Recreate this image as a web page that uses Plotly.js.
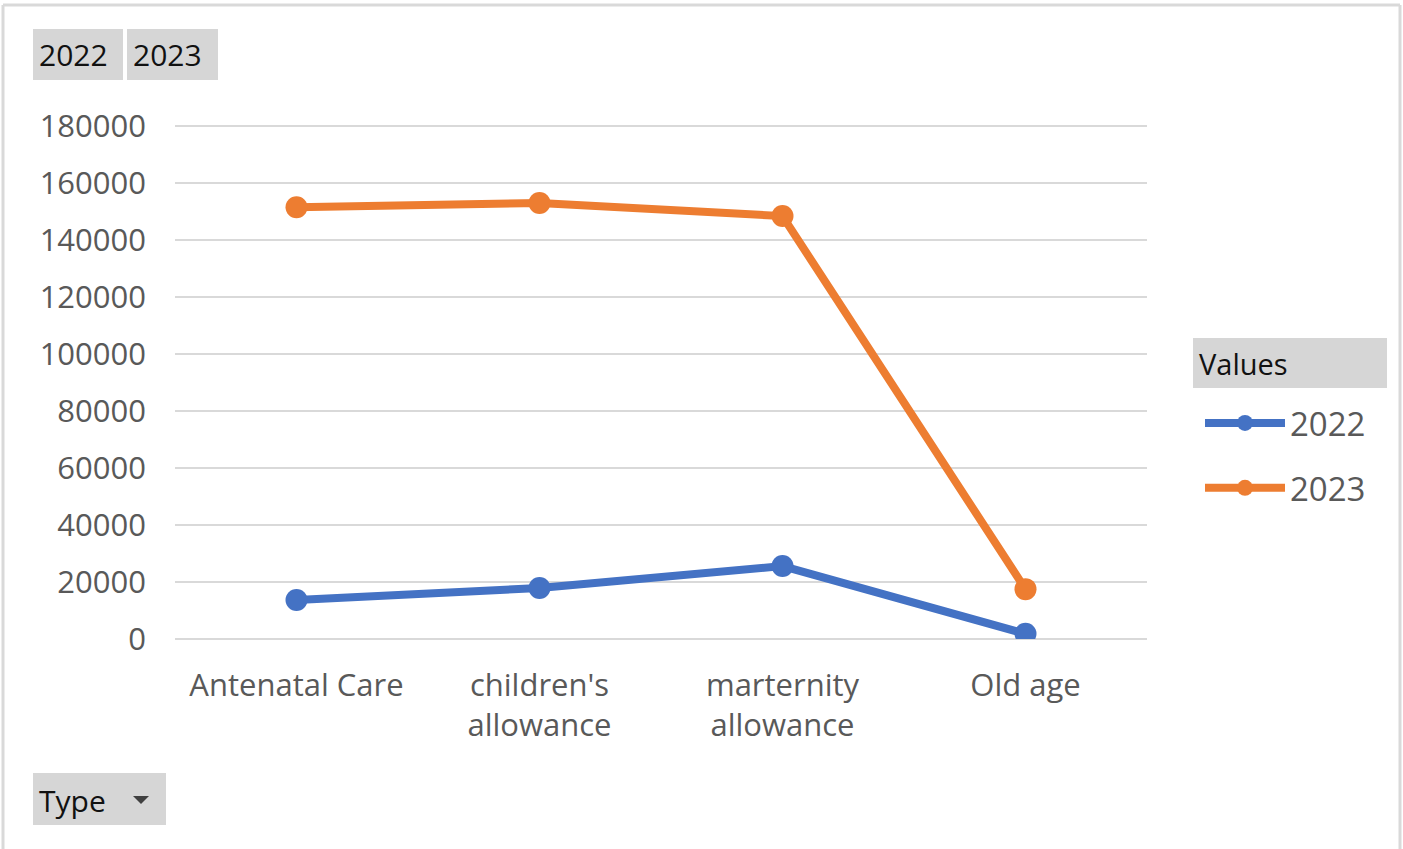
<!DOCTYPE html>
<html>
<head>
<meta charset="utf-8">
<script src="https://cdn.plot.ly/plotly-3.0.1.min.js"></script>
<style>
html,body{margin:0;padding:0;background:#fff;}
#chart{width:1403px;height:849px;}
</style>
</head>
<body>
<div id="chart"></div>
<script>
const categories = ["Antenatal Care", "children's allowance", "marternity allowance", "Old age"];
const tickLabels = ["Antenatal Care", "children's<br>allowance", "marternity<br>allowance", "Old age"];
const seriesNames = ["2022", "2023"];
const values2022 = [13700, 17900, 25600, 1800];
const values2023 = [151500, 153000, 148400, 17500];
const yTicks = [0, 20000, 40000, 60000, 80000, 100000, 120000, 140000, 160000, 180000];

const W = 1403, H = 849;
const M = {l: 175, r: 256, t: 124, b: 210};
const PW = W - M.l - M.r, PH = H - M.t - M.b;
const Y0 = 639, YTOP = 126; // pixel rows of 0 and 180000
const yMax = 180000 * (H - M.b - M.t) / (Y0 - YTOP);
const px = x => (x - M.l) / PW;
const py = y => (H - M.b - y) / PH;

const FONT = "Open Sans, Noto Sans, sans-serif";
const colors = ["#4472c4", "#ed7d31"];

const traces = [values2022, values2023].map((v, i) => ({
  type: "scatter",
  mode: "lines+markers",
  name: seriesNames[i],
  x: categories,
  y: v,
  line: {color: colors[i], width: 8},
  marker: {color: colors[i], size: 22},
  legendgroup: "g" + i
}));

const btnFill = "#d6d6d6";
const shapes = [
  {type: "line", xref: "paper", yref: "paper", x0: px(3), x1: px(1400), y0: py(5), y1: py(5), line: {color: "#d9d9d9", width: 3}},
  {type: "line", xref: "paper", yref: "paper", x0: px(3), x1: px(3), y0: py(5), y1: py(849), line: {color: "#d9d9d9", width: 3}},
  {type: "line", xref: "paper", yref: "paper", x0: px(1400), x1: px(1400), y0: py(5), y1: py(849), line: {color: "#d9d9d9", width: 3}},
  {type: "rect", xref: "paper", yref: "paper", x0: px(33), x1: px(123), y0: py(29), y1: py(80), fillcolor: btnFill, line: {width: 0}},
  {type: "rect", xref: "paper", yref: "paper", x0: px(127), x1: px(218), y0: py(29), y1: py(80), fillcolor: btnFill, line: {width: 0}},
  {type: "rect", xref: "paper", yref: "paper", x0: px(33), x1: px(166), y0: py(773), y1: py(825), fillcolor: btnFill, line: {width: 0}},
  {type: "rect", xref: "paper", yref: "paper", x0: px(1193), x1: px(1387), y0: py(338), y1: py(388), fillcolor: btnFill, line: {width: 0}},
  {type: "path", xref: "paper", yref: "paper",
   path: `M ${px(133)} ${py(796)} L ${px(149)} ${py(796)} L ${px(141)} ${py(804)} Z`,
   fillcolor: "#404040", line: {width: 0}}
];

const ann = (text, x, y, size, color) => ({
  text: text, xref: "paper", yref: "paper", x: px(x), y: py(y),
  xanchor: "left", yanchor: "middle", showarrow: false,
  font: {family: FONT, size: size, color: color}
});

const annotations = [
  ann("2022", 37, 55, 30, "#111111"),
  ann("2023", 131, 55, 30, "#111111"),
  ann("Type", 37, 800, 30, "#111111"),
  ann("Values", 1197, 363, 29, "#111111")
];

const layout = {
  width: W, height: H,
  margin: M,
  paper_bgcolor: "#ffffff",
  plot_bgcolor: "#ffffff",
  font: {family: FONT, color: "#595959", size: 30},
  showlegend: true,
  legend: {
    x: px(1200), y: py(395), xanchor: "left", yanchor: "top",
    font: {family: FONT, size: 33, color: "#595959"},
    tracegroupgap: 19, traceorder: "grouped", itemwidth: 80
  },
  xaxis: {
    type: "category",
    categoryorder: "array", categoryarray: categories,
    tickvals: categories, ticktext: tickLabels,
    range: [-0.5, 3.5],
    showgrid: false, zeroline: false, showline: false, ticks: "",
    ticklabelstandoff: 25,
    tickfont: {family: FONT, size: 31, color: "#595959"}
  },
  yaxis: {
    range: [0, yMax],
    tickvals: yTicks,
    ticktext: yTicks.map(String),
    showgrid: true, gridcolor: "#d9d9d9", gridwidth: 2.5,
    zeroline: true, zerolinecolor: "#d9d9d9", zerolinewidth: 2.5,
    showline: false, ticks: "",
    ticklabelstandoff: 28,
    tickfont: {family: FONT, size: 31, color: "#595959"}
  },
  shapes: shapes,
  annotations: annotations
};

Plotly.newPlot("chart", traces, layout, {displayModeBar: false, staticPlot: true});
</script>
</body>
</html>
